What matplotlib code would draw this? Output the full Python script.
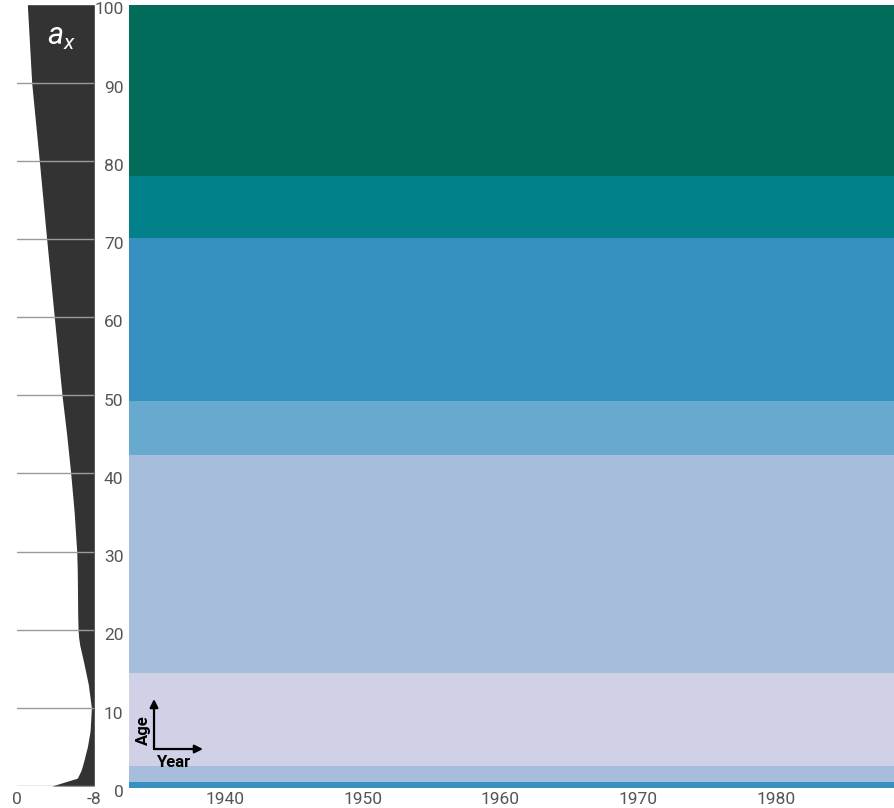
import matplotlib
matplotlib.use('Agg')
import matplotlib.pyplot as plt
import matplotlib.transforms as mtransforms
import numpy as np

plt.rcParams['font.family'] = ['Roboto', 'DejaVu Sans']
plt.rcParams['axes.unicode_minus'] = False
plt.rcParams['mathtext.fontset'] = 'custom'
plt.rcParams['mathtext.it'] = 'Roboto:italic'
plt.rcParams['mathtext.rm'] = 'Roboto'

# age groups (lower/upper edges) shown as horizontal bands
band_edges = [0, 0.8, 2.8, 14.7, 42.5, 49.4, 70.3, 78.2, 100]
band_colors = ['#3690c0', '#a6bddb', '#d0d1e6', '#a6bddb',
               '#67a9cf', '#3690c0', '#02818a', '#016c59']
years = [1940, 1950, 1960, 1970, 1980]
year_range = (1933.0, 1988.6)
age_ticks = [0, 10, 20, 30, 40, 50, 60, 70, 80, 90, 100]

# a_x profile (left panel)
ax_ages = [0, 1, 2, 3, 5, 7, 10, 13, 16, 18, 19, 20, 22, 25, 28, 30, 35,
           40, 45, 50, 60, 70, 80, 90, 100]
ax_vals = [-3.59, -6.24, -6.63, -6.87, -7.28, -7.56, -7.7, -7.38, -6.87,
           -6.5, -6.38, -6.32, -6.28, -6.26, -6.23, -6.18, -5.92,
           -5.56, -5.14, -4.66, -3.86, -3.07, -2.31, -1.52, -1.07]

fig = plt.figure(figsize=(8.94, 8.08), dpi=100)
W, H = 894., 808.

# main panel
ax = fig.add_axes([129 / W, (H - 788) / H, 1 - 129 / W, (788 - 5.3) / H])
for lo, hi, c in zip(band_edges[:-1], band_edges[1:], band_colors):
    ax.axhspan(lo, hi, color=c, lw=0)
ax.set_xlim(*year_range)
ax.set_ylim(0, 100)
ax.set_xticks(years)
ax.set_yticks(age_ticks)
ax.tick_params(length=0, labelsize=12.5, colors='#555555', pad=4)
ax.tick_params(axis='x', pad=3)
shift = mtransforms.ScaledTranslation(0, -3 / 100., fig.dpi_scale_trans)
for lab in ax.get_yticklabels():
    lab.set_transform(lab.get_transform() + shift)
for s in ax.spines.values():
    s.set_visible(False)

# Age / Year legend arrows
arw = dict(arrowstyle='-|>', color='black', lw=1.6, mutation_scale=12,
           shrinkA=0, shrinkB=0)
ax.annotate('', xy=(0.0327, 0.1137), xytext=(0.0327, 0.0498),
            xycoords='axes fraction', arrowprops=arw)
ax.annotate('', xy=(0.0967, 0.0498), xytext=(0.0327, 0.0498),
            xycoords='axes fraction', arrowprops=arw)
ax.text(0.0183, 0.0741, 'Age', transform=ax.transAxes, rotation=90,
        ha='center', va='center', fontsize=12, fontweight='bold')
ax.text(0.0575, 0.0332, 'Year', transform=ax.transAxes,
        ha='center', va='center', fontsize=12, fontweight='bold')

# left panel: a_x
ax2 = fig.add_axes([17 / W, (H - 786) / H, (94.3 - 17) / W, (786 - 4.7) / H])
ax2.fill_betweenx(ax_ages, ax_vals, -8, color='#333333', lw=0)
for a in age_ticks[:-1]:
    ax2.axhline(a, color='#9a9a9a', lw=1, zorder=3)
ax2.set_xlim(0, -8)
ax2.set_ylim(0, 100)
ax2.set_xticks([0, -8])
ax2.set_xticklabels(['0', '-8'])
ax2.set_yticks([])
ax2.tick_params(length=0, labelsize=12.5, colors='#555555', pad=4)
for s in ax2.spines.values():
    s.set_visible(False)
ax2.patch.set_alpha(0)
ax2.text(0.58, 0.958, '$a_x$', transform=ax2.transAxes, color='white',
         ha='center', va='center', fontsize=22)

fig.savefig('out.png', dpi=100)
